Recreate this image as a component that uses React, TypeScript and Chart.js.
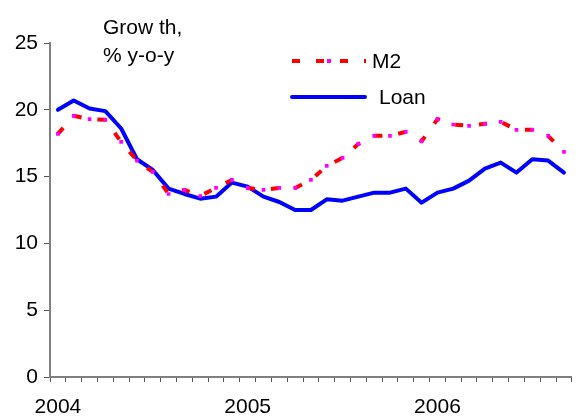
import React, { useEffect, useRef } from "react";
import { Chart, registerables } from "chart.js";

Chart.register(...registerables);

const categories = [
  "Jan 2004", "Feb 2004", "Mar 2004", "Apr 2004", "May 2004", "Jun 2004",
  "Jul 2004", "Aug 2004", "Sep 2004", "Oct 2004", "Nov 2004", "Dec 2004",
  "Jan 2005", "Feb 2005", "Mar 2005", "Apr 2005", "May 2005", "Jun 2005",
  "Jul 2005", "Aug 2005", "Sep 2005", "Oct 2005", "Nov 2005", "Dec 2005",
  "Jan 2006", "Feb 2006", "Mar 2006", "Apr 2006", "May 2006", "Jun 2006",
  "Jul 2006", "Aug 2006", "Sep 2006",
];

const m2Values = [
  18.2, 19.55, 19.3, 19.25, 17.6, 16.2, 15.35, 13.7, 14.0, 13.55, 14.15, 14.75,
  14.15, 14.0, 14.15, 14.15, 14.75, 15.8, 16.4, 17.45, 18.05, 18.05, 18.35, 17.65,
  19.3, 18.9, 18.8, 18.95, 19.1, 18.5, 18.5, 18.05, 16.85,
];

const loanValues = [
  20.0, 20.7, 20.1, 19.9, 18.6, 16.3, 15.5, 14.1, 13.7, 13.35, 13.5, 14.55,
  14.25, 13.5, 13.1, 12.5, 12.5, 13.3, 13.2, 13.5, 13.8, 13.8, 14.1, 13.05,
  13.8, 14.1, 14.7, 15.6, 16.05, 15.3, 16.3, 16.2, 15.3,
];

const seriesNames = ["M2", "Loan"];
const titleLines = ["Grow th,", "% y-o-y"];
const yMin = 0;
const yMax = 25;
const yStep = 5;

const FONT = "'Liberation Sans', Arial, sans-serif";
const FONT_SIZE = 21;

const overlayPlugin = {
  id: "overlay",
  afterDraw(chart: any) {
    const ctx = chart.ctx as CanvasRenderingContext2D;
    ctx.save();
    ctx.fillStyle = "#000";
    ctx.font = `${FONT_SIZE}px ${FONT}`;
    ctx.textBaseline = "alphabetic";
    ctx.textAlign = "left";
    ctx.fillText(titleLines[0], 103, 34);
    ctx.fillText(titleLines[1], 103, 62);

    // Legend: M2
    ctx.strokeStyle = "#FF0000";
    ctx.lineWidth = 4;
    ctx.setLineDash([8, 16]);
    ctx.lineCap = "butt";
    ctx.beginPath();
    ctx.moveTo(292, 61);
    ctx.lineTo(366, 61);
    ctx.stroke();
    ctx.setLineDash([]);
    ctx.fillStyle = "#FF00FF";
    ctx.fillRect(327, 59, 4, 4);
    ctx.fillStyle = "#000";
    ctx.textBaseline = "middle";
    ctx.fillText(seriesNames[0], 372, 62);

    // Legend: Loan
    ctx.strokeStyle = "#0000FF";
    ctx.lineWidth = 4;
    ctx.lineCap = "round";
    ctx.beginPath();
    ctx.moveTo(292, 97);
    ctx.lineTo(365, 97);
    ctx.stroke();
    ctx.fillText(seriesNames[1], 379, 98);
    ctx.restore();
  },
};

export default function App() {
  const canvasRef = useRef<HTMLCanvasElement | null>(null);

  useEffect(() => {
    const canvas = canvasRef.current;
    if (!canvas) return;
    const chart = new Chart(canvas, {
      type: "line",
      data: {
        labels: categories,
        datasets: [
          {
            label: seriesNames[0],
            data: m2Values,
            borderColor: "#FF0000",
            borderWidth: 4,
            borderDash: [8, 16],
            borderCapStyle: "butt",
            pointStyle: "rect",
            pointRadius: 2.6,
            pointBorderWidth: 0,
            pointBackgroundColor: "#FF00FF",
            pointHoverRadius: 2.6,
            tension: 0,
            fill: false,
          },
          {
            label: seriesNames[1],
            data: loanValues,
            borderColor: "#0000FF",
            borderWidth: 4,
            borderJoinStyle: "round",
            borderCapStyle: "round",
            pointRadius: 0,
            pointHoverRadius: 0,
            tension: 0,
            fill: false,
          },
        ],
      },
      options: {
        responsive: false,
        animation: false,
        events: [],
        layout: { padding: { top: 43, right: 0, left: 0, bottom: 0 } },
        plugins: {
          legend: { display: false },
          title: { display: false },
          tooltip: { enabled: false },
        },
        scales: {
          x: {
            type: "category",
            offset: true,
            grid: {
              offset: true,
              drawOnChartArea: false,
              drawTicks: true,
              tickLength: 5,
              color: "#555",
              lineWidth: 1,
            },
            border: { display: true, color: "#808080", width: 2 },
            ticks: {
              autoSkip: false,
              maxRotation: 0,
              minRotation: 0,
              padding: 13,
              color: "#000",
              font: { family: FONT, size: FONT_SIZE },
              callback: (_v: any, index: number) => {
                const lab = categories[index];
                return lab.startsWith("Jan") ? lab.slice(4) : "";
              },
            },
            afterFit: (scale: any) => {
              scale.height = 41;
            },
          },
          y: {
            min: yMin,
            max: yMax,
            grid: {
              drawOnChartArea: false,
              drawTicks: true,
              tickLength: 6,
              color: "#555",
              lineWidth: 1,
            },
            border: { display: true, color: "#808080", width: 2 },
            ticks: {
              stepSize: yStep,
              padding: 6,
              color: "#000",
              font: { family: FONT, size: FONT_SIZE },
            },
            afterFit: (scale: any) => {
              scale.width = 50;
            },
          },
        },
      },
      plugins: [overlayPlugin],
    });
    return () => chart.destroy();
  }, []);

  return (
    <div style={{ position: "fixed", left: 0, top: 0, width: 577, height: 418, background: "#fff" }}>
      <canvas ref={canvasRef} width={577} height={418} style={{ display: "block" }} />
    </div>
  );
}
